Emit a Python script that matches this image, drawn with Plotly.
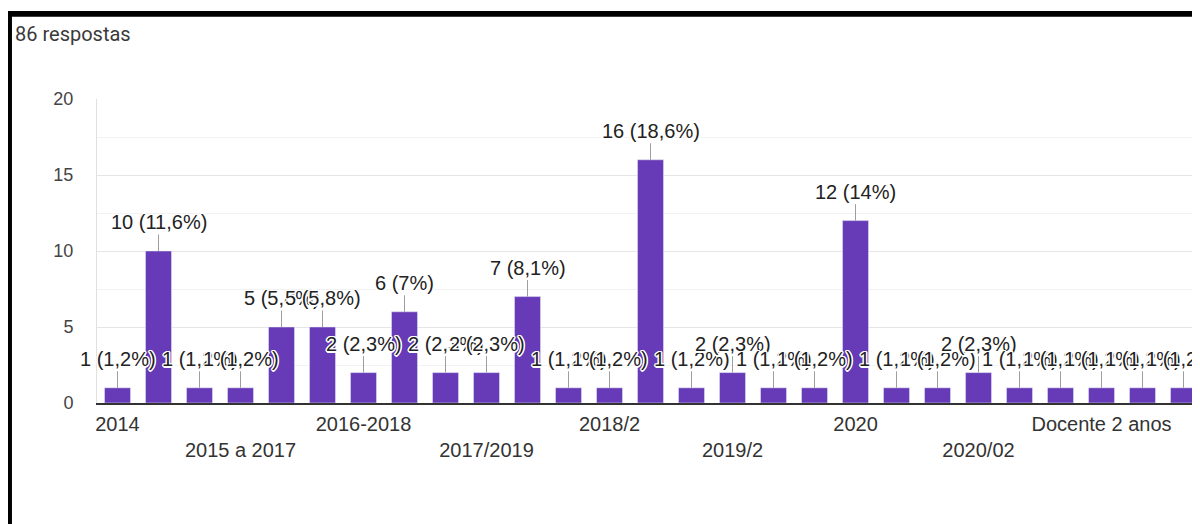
import plotly.graph_objects as go

total_responses = 86
categories = [
    "2014", "2015", "2015/2", "2015 a 2017", "2016", "2016/2",
    "2016-2018", "2017", "2017/2", "2017/2019", "2018", "2018/1",
    "2018/2", "2019", "2019/1", "2019/2", "2019/2020", "2019-2021",
    "2020", "2020/1", "2020/01", "2020/02", "2020/2", "2021",
    "Docente 2 anos", "Docente 3 anos", "Docente 4 anos",
]
counts = [1, 10, 1, 1, 5, 5, 2, 6, 2, 2, 7, 1, 1, 16, 1, 2, 1, 1, 12, 1, 1, 2, 1, 1, 1, 1, 1]
tick_labels_row1 = ["2014", "2016-2018", "2018/2", "2020", "Docente 2 anos"]
tick_labels_row2 = ["2015 a 2017", "2017/2019", "2019/2", "2020/02"]

BAR = "#673AB7"
FONT = "Liberation Sans, Arial, sans-serif"


def pct(v):
    p = round(v / total_responses * 100, 1)
    s = f"{p:.1f}".replace(".", ",")
    if s.endswith(",0"):
        s = s[:-2]
    return f"{v} ({s}%)"


fig = go.Figure(go.Bar(x=categories, y=counts, marker_color=BAR, hoverinfo="skip"))

tickvals = [c for c in categories if c in tick_labels_row1 or c in tick_labels_row2]
ticktext = [c if c in tick_labels_row1 else "<br>" + c for c in tickvals]

halo = ("-1px -1px 0 #fff, 1px -1px 0 #fff, -1px 1px 0 #fff, 1px 1px 0 #fff, "
        "0 -1.5px 0 #fff, 0 1.5px 0 #fff, -1.5px 0 0 #fff, 1.5px 0 0 #fff")

annotations = []
for i, v in enumerate(counts):
    # category axis: position given by the category's serial index
    annotations.append(dict(
        x=i, y=v, xref="x", yref="y", text=pct(v), showarrow=True,
        arrowhead=0, arrowwidth=1, arrowcolor="#9e9e9e", ax=0, ay=-29,
        font=dict(family=FONT, size=20, color="#222", shadow=halo),
    ))

annotations.append(dict(
    x=-0.0762, y=1.2138, xref="paper", yref="paper", xanchor="left", yanchor="middle",
    text="86 respostas", showarrow=False,
    font=dict(family="Roboto, " + FONT, size=20, color="#3a3a3a"),
))

shapes = [
    dict(type="rect", xref="paper", yref="paper", x0=-0.09, x1=1.0, y0=1.2707, y1=1.2895,
         fillcolor="black", line_width=0, layer="above"),
    dict(type="rect", xref="paper", yref="paper", x0=-0.09, x1=-0.0771, y0=-0.45, y1=1.2895,
         fillcolor="black", line_width=0, layer="above"),
]

fig.update_layout(
    width=1192, height=516,
    margin=dict(l=89, r=0, t=91, b=121),
    paper_bgcolor="white", plot_bgcolor="white",
    bargap=0.366,
    showlegend=False,
    font=dict(family=FONT, color="#333"),
    annotations=annotations,
    shapes=shapes,
    xaxis=dict(
        type="category", range=[-0.5, 26.402],
        tickmode="array", tickvals=tickvals, ticktext=ticktext,
        tickfont=dict(size=20, color="#333"), tickangle=0,
        showgrid=False, showline=True, linecolor="#333", linewidth=2,
        ticks="", ticklabelstandoff=2,
    ),
    yaxis=dict(
        range=[0, 20], tickmode="linear", tick0=0, dtick=5,
        tickfont=dict(size=18, color="#444"),
        showgrid=True, gridcolor="#e6e6e6", gridwidth=1,
        minor=dict(dtick=2.5, showgrid=True, gridcolor="#f2f2f2", gridwidth=1),
        zeroline=False, showline=True, linecolor="#e0e0e0", linewidth=1,
        ticks="", ticklabelstandoff=19,
    ),
)

fig.write_html("out.html")
